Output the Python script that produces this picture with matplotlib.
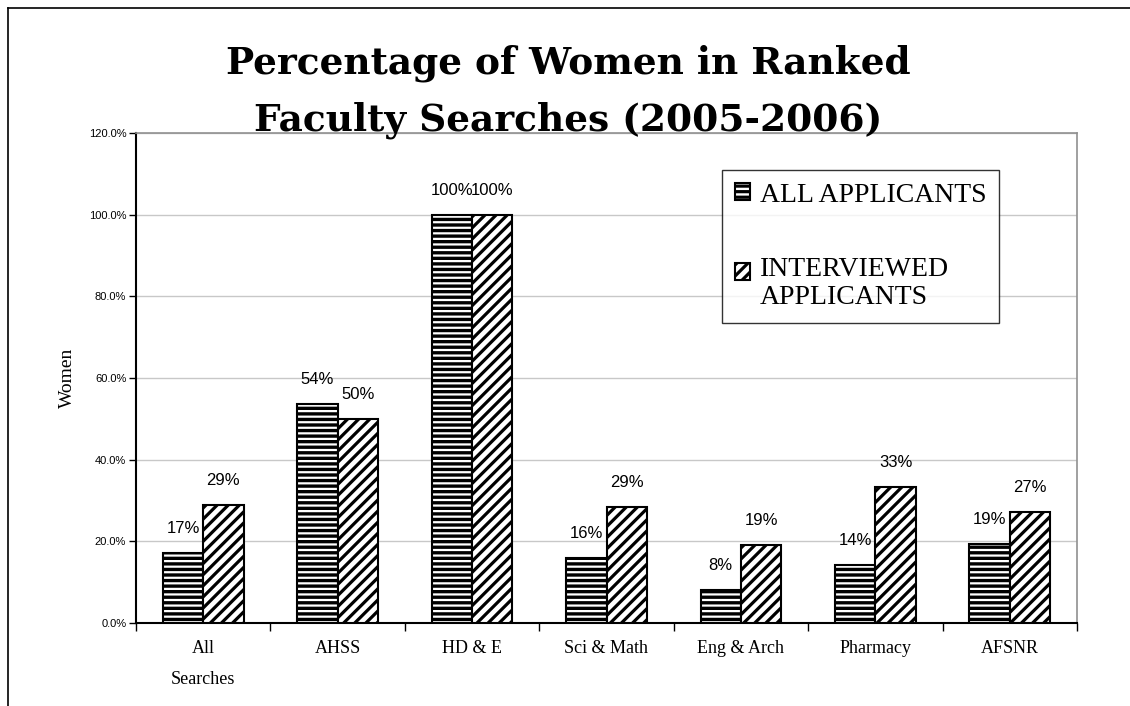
import numpy as np
import matplotlib.pyplot as plt
from matplotlib.lines import Line2D

# data
categories = ["All\nSearches", "AHSS", "HD & E", "Sci & Math", "Eng & Arch", "Pharmacy", "AFSNR"]
all_applicants = [17.2, 53.6, 100.0, 15.8, 8.2, 14.3, 19.4]
interviewed = [28.8, 50.0, 100.0, 28.5, 19.0, 33.3, 27.1]
all_labels = ["17%", "54%", "100%", "16%", "8%", "14%", "19%"]
int_labels = ["29%", "50%", "100%", "29%", "19%", "33%", "27%"]
y_ticks = [0, 20, 40, 60, 80, 100, 120]

plt.rcParams["hatch.color"] = "black"

fig = plt.figure(figsize=(11.3, 7.06), dpi=100)
ax = fig.add_axes([136 / 1130, 1 - 623 / 706, (1077 - 136) / 1130, (623 - 133) / 706])

x = np.arange(len(categories))
w = 0.3
plt.rcParams["hatch.linewidth"] = 2.4
b1 = ax.bar(x - w / 2, all_applicants, w, color="white", edgecolor="black",
            hatch="---", linewidth=1.5, label="ALL APPLICANTS", zorder=3)
plt.rcParams["hatch.linewidth"] = 2.3
b2 = ax.bar(x + w / 2, interviewed, w, color="white", edgecolor="black",
            hatch="///", linewidth=1.5, label="INTERVIEWED\nAPPLICANTS", zorder=3)

for xi, v, t in zip(x - w / 2, all_applicants, all_labels):
    ax.text(xi, v + 6, t, ha="center", va="center", fontsize=12,
            family="Liberation Sans", zorder=4)
for xi, v, t in zip(x + w / 2, interviewed, int_labels):
    ax.text(xi, v + 6, t, ha="center", va="center", fontsize=12,
            family="Liberation Sans", zorder=4)

ax.set_xlim(-0.5, len(categories) - 0.5)
ax.set_ylim(0, 120)
ax.set_yticks(y_ticks)
ax.set_yticklabels([f"{v:.1f}%" for v in y_ticks], family="Liberation Sans", fontsize=8)
ax.yaxis.grid(True, color="#c8c8c8", linewidth=1, zorder=0)
ax.tick_params(axis="y", direction="out", length=5, width=1, pad=2)

# category boundaries as tick marks, labels centred in between
ax.set_xticks(np.arange(len(categories) + 1) - 0.5)
ax.set_xticklabels([])
ax.set_xticks(x, minor=True)
ax.set_xticklabels(categories, minor=True, family="Liberation Serif", fontsize=13,
                   linespacing=2.1)
ax.tick_params(axis="x", which="major", direction="out", length=6, width=1)
ax.tick_params(axis="x", which="minor", length=0, pad=12)

for s in ["left", "bottom"]:
    ax.spines[s].set_color("black")
    ax.spines[s].set_linewidth(1.5)
for s in ["top", "right"]:
    ax.spines[s].set_color("#909090")
    ax.spines[s].set_linewidth(1.2)

ax.set_ylabel("Women", family="Liberation Serif", fontsize=14, labelpad=9)

leg = ax.legend(loc="upper left", bbox_to_anchor=((722 - 136) / 941, (623 - 170) / 490),
                prop={"family": "Liberation Serif", "size": 20}, frameon=True,
                fancybox=False, edgecolor="black", handlelength=0.55, handleheight=0.55,
                handletextpad=0.35, labelspacing=1.8, borderpad=0.45, borderaxespad=0)
leg.get_frame().set_linewidth(1.0)
for t in leg.get_texts():
    t.set_linespacing(1.15)
# second handle sits level with the first text line, as in the original
h2 = leg.legend_handles[1]
h2.set_y(h2.get_y() + 8.5)

fig.text(0.503, 1 - 63 / 706, "Percentage of Women in Ranked", ha="center", va="center",
         family="DejaVu Serif", fontweight="bold", fontsize=27)
fig.text(0.503, 1 - 120 / 706, "Faculty Searches (2005-2006)", ha="center", va="center",
         family="DejaVu Serif", fontweight="bold", fontsize=27)

# outer frame (left and top edges only visible)
fig.add_artist(Line2D([8 / 1130, 8 / 1130], [0, 1 - 8 / 706], color="black", linewidth=1.2))
fig.add_artist(Line2D([8 / 1130, 1], [1 - 8 / 706, 1 - 8 / 706], color="black", linewidth=1.2))

fig.savefig("out.png", dpi=100)
